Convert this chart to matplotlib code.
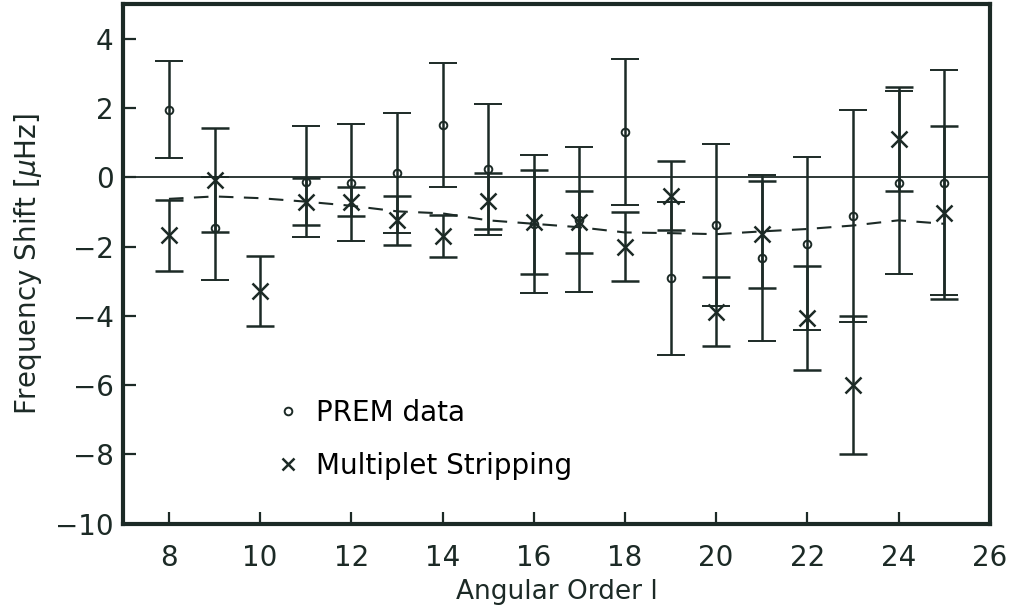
import matplotlib
matplotlib.use("Agg")
import matplotlib.pyplot as plt
from matplotlib.lines import Line2D

# PREM data (no value at l=10)
prem_l = [8, 9, 11, 12, 13, 14, 15, 16, 17, 18, 19, 20, 21, 22, 23, 24, 25]
prem_shift = [1.96, -1.47, -0.12, -0.15, 0.13, 1.51, 0.23, -1.35, -1.22, 1.31,
              -2.92, -1.37, -2.32, -1.91, -1.11, -0.15, -0.15]
prem_err = [1.40, 1.49, 1.59, 1.69, 1.74, 1.80, 1.90, 2.00, 2.10, 2.12,
            2.22, 2.34, 2.40, 2.50, 3.07, 2.65, 3.25]

# Multiplet stripping
ms_l = list(range(8, 26))
ms_shift = [-1.67, -0.07, -3.28, -0.70, -0.70, -1.24, -1.70, -0.68, -1.30, -1.28,
            -2.00, -0.53, -3.88, -1.64, -4.05, -5.99, 1.12, -1.02]
ms_err = [1.02, 1.51, 1.00, 0.67, 0.42, 0.70, 0.60, 0.80, 1.50, 0.90,
          1.00, 1.00, 1.00, 1.55, 1.50, 2.00, 1.50, 2.50]

# dashed model curve
model_shift = [-0.62, -0.55, -0.60, -0.70, -0.82, -0.98, -1.04, -1.24, -1.34, -1.44,
               -1.59, -1.61, -1.64, -1.56, -1.49, -1.39, -1.24, -1.34]

ink = "#1c2a26"
plt.rcParams["font.family"] = "DejaVu Sans"

fig = plt.figure(figsize=(10.11, 6.11), dpi=100)
ax = fig.add_axes([0.122, 0.143, 0.857, 0.850])

ax.axhline(0, color=ink, lw=1.3)
ax.plot(ms_l, model_shift, ls=(0, (7, 5)), color=ink, lw=1.5)

ax.errorbar(prem_l, prem_shift, yerr=prem_err, fmt="o", ms=5.5, mfc="none", mec=ink,
            mew=1.4, ecolor=ink, elinewidth=1.8, capsize=10, capthick=1.8)
ax.errorbar(ms_l, ms_shift, yerr=ms_err, fmt="x", ms=12, mec=ink, mew=1.8,
            ecolor=ink, elinewidth=1.8, capsize=10, capthick=1.8)

ax.set_xlim(7, 26)
ax.set_ylim(-10, 5)
ax.set_xticks(range(8, 27, 2))
ax.set_yticks(range(-10, 5, 2))
ax.tick_params(direction="in", length=9, width=1.6, labelsize=20, colors=ink,
               top=False, right=False)
ax.tick_params(axis="x", pad=15)
ax.tick_params(axis="y", pad=7)
for s in ax.spines.values():
    s.set_linewidth(3)
    s.set_color(ink)

ax.set_xlabel("Angular Order l", fontsize=19, color=ink, labelpad=5)
ax.set_ylabel(r"Frequency Shift [$\mu$Hz]", fontsize=20, color=ink, labelpad=8)

handles = [
    Line2D([], [], ls="none", marker="o", ms=5.5, mfc="none", mec=ink, mew=1.4),
    Line2D([], [], ls="none", marker="x", ms=8, mec=ink, mew=1.8),
]
ax.legend(handles, ["PREM data", "Multiplet Stripping"], loc="lower left",
          bbox_to_anchor=(0.145, 0.036), frameon=False, fontsize=20,
          handlelength=1.0, handletextpad=0.5, labelspacing=0.9)

fig.savefig("out.png", dpi=100)
